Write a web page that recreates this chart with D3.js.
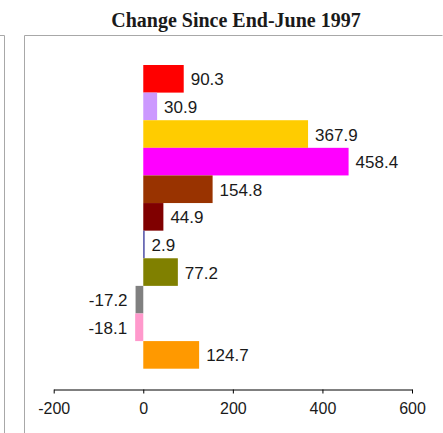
<!DOCTYPE html>
<html>
<head>
<meta charset="utf-8">
<script src="https://cdn.jsdelivr.net/npm/d3@7"></script>
<style>
  html, body { margin: 0; padding: 0; background: #fff; }
  svg { display: block; }
</style>
</head>
<body>
<svg id="chart" width="443" height="433"></svg>
<script>
// Series (one bar each, top to bottom), their values and fill colours
const categories = ["s1", "s2", "s3", "s4", "s5", "s6", "s7", "s8", "s9", "s10", "s11"];
const values = [90.3, 30.9, 367.9, 458.4, 154.8, 44.9, 2.9, 77.2, -17.2, -18.1, 124.7];
const colors = ["#FF0000", "#CC99FF", "#FFCC00", "#FF00FF", "#993300", "#800000",
                "#333399", "#808000", "#808080", "#FF99CC", "#FF9900"];
const tickValues = [-200, 0, 200, 400, 600];
const title = "Change Since End-June 1997";

const svg = d3.select("#chart");
const W = 443, H = 433;

// Panel frames
const frame = svg.append("g").attr("fill", "none").attr("stroke", "#a8a8a8").attr("stroke-width", 1);
frame.append("path").attr("d", `M0,35.5 H4.5 V${H}`);
frame.append("path").attr("d", `M24.5,${H} V35.5 H${W - 0.5}`);

// Title
svg.append("text")
  .attr("x", 236)
  .attr("y", 26.5)
  .attr("text-anchor", "middle")
  .attr("font-family", "'Liberation Serif', 'Times New Roman', serif")
  .attr("font-weight", "bold")
  .attr("font-size", 20)
  .attr("fill", "#1a1a1a")
  .text(title);

// Scales
const x = d3.scaleLinear().domain([-200, 600]).range([53.7, 412]);
const y = d3.scaleBand().domain(categories).range([65, 368.7]).paddingInner(0).paddingOuter(0);

// Bars
svg.append("g")
  .selectAll("rect")
  .data(values)
  .join("rect")
  .attr("x", d => x(Math.min(0, d)))
  .attr("y", (d, i) => y(categories[i]))
  .attr("width", d => Math.abs(x(d) - x(0)))
  .attr("height", y.bandwidth())
  .attr("fill", (d, i) => colors[i]);

// Value labels
svg.append("g")
  .selectAll("text")
  .data(values)
  .join("text")
  .attr("x", d => d >= 0 ? x(d) + 7 : x(d) - 8)
  .attr("y", (d, i) => y(categories[i]) + y.bandwidth() / 2 + 6.5)
  .attr("text-anchor", d => d >= 0 ? "start" : "end")
  .attr("font-family", "'Liberation Sans', Arial, Helvetica, sans-serif")
  .attr("font-size", 17)
  .attr("fill", "#1a1a1a")
  .text(d => d.toFixed(1));

// Value axis
const axis = svg.append("g")
  .attr("transform", "translate(0,389.5)")
  .call(d3.axisBottom(x).tickValues(tickValues).tickSize(4).tickSizeOuter(0).tickPadding(9)
    .tickFormat(d => String(d)));
axis.select(".domain").attr("stroke", "#000");
axis.selectAll(".tick line").attr("stroke", "#000");
axis.selectAll(".tick text")
  .attr("font-family", "'Liberation Sans', Arial, Helvetica, sans-serif")
  .attr("font-size", 16)
  .attr("fill", "#1a1a1a");
</script>
</body>
</html>
